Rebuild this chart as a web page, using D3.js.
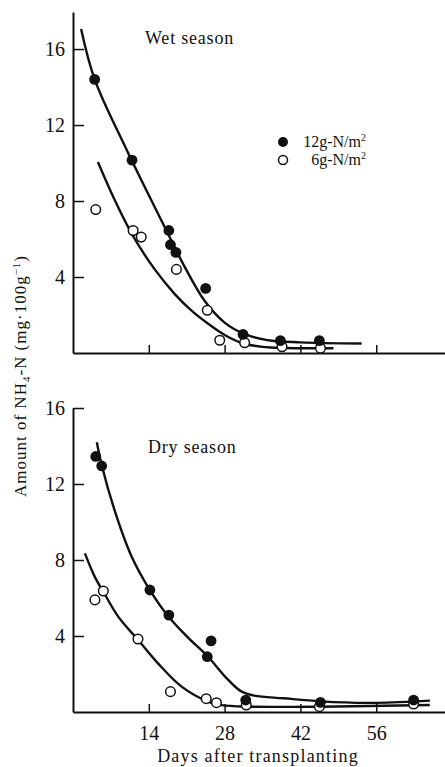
<!DOCTYPE html>
<html>
<head>
<meta charset="utf-8">
<script src="https://cdn.jsdelivr.net/npm/d3@7"></script>
<style>
  body { margin: 0; background: #fff; }
</style>
</head>
<body>
<div id="chart"></div>
<script>
// ---- data ----
// wet season, points
const wetDays12 = [4.0, 10.9, 17.7, 18.0, 19.0, 24.5, 31.4, 38.3, 45.5];
const wetN12    = [14.4, 10.15, 6.45, 5.7, 5.3, 3.4, 0.98, 0.65, 0.65];
const wetDays6  = [4.2, 11.1, 12.6, 19.1, 24.8, 27.1, 31.7, 38.6, 45.7];
const wetN6     = [7.55, 6.45, 6.1, 4.4, 2.25, 0.67, 0.54, 0.33, 0.25];
// wet season, fitted curves
const wetCurveDays12 = [1.5, 4.0, 9.9, 16.9, 20.6, 24.3, 28.0, 31.5, 35.9, 42.0, 53.3];
const wetCurveN12    = [17.05, 14.4, 10.7, 6.65, 4.55, 2.75, 1.6, 1.02, 0.68, 0.56, 0.5];
const wetCurveDays6  = [4.6, 7.7, 11.1, 15.1, 18.8, 22.0, 24.9, 28.0, 31.5, 35.0, 38.9, 48.1];
const wetCurveN6     = [10.05, 8.05, 6.15, 4.4, 3.1, 2.2, 1.55, 0.95, 0.5, 0.32, 0.26, 0.25];

// dry season, points
const dryDays12 = [4.2, 5.3, 14.2, 17.7, 24.8, 25.5, 31.9, 45.7, 62.9];
const dryN12    = [13.45, 12.95, 6.42, 5.1, 2.91, 3.74, 0.63, 0.51, 0.63];
const dryDays6  = [4.05, 5.6, 12.0, 18.0, 24.6, 26.5, 32.0, 45.5, 62.9];
const dryN6     = [5.9, 6.37, 3.84, 1.07, 0.7, 0.49, 0.37, 0.28, 0.42];
// dry season, fitted curves
const dryCurveDays12 = [4.4, 5.3, 7.7, 10.8, 14.2, 17.7, 21.3, 24.9, 28.3, 31.0, 33.5, 38.9, 45.7, 54.3, 62.9, 65.9];
const dryCurveN12    = [14.2, 13.0, 10.6, 8.2, 6.42, 5.0, 3.9, 2.92, 1.8, 1.1, 0.86, 0.72, 0.56, 0.48, 0.55, 0.6];
const dryCurveDays6  = [2.2, 4.05, 5.6, 8.35, 12.0, 15.7, 20.0, 24.9, 27.4, 32.8, 45.7, 65.9];
const dryCurveN6     = [8.35, 7.1, 6.33, 5.02, 3.8, 2.56, 1.35, 0.55, 0.36, 0.28, 0.28, 0.37];

const xTicks = [14, 28, 42, 56];
const yTicks = [4, 8, 12, 16];
const seasonLabels = ["Wet season", "Dry season"];
const legendLabels = ["12g-N/m", "6g-N/m"];

const serif = "'Liberation Serif'";

// ---- layout ----
const width = 445, height = 767;
const axisX = 73;

const svg = d3.select("#chart").append("svg")
    .attr("width", width)
    .attr("height", height);

const x = d3.scaleLinear().domain([0, 68.7]).range([axisX, width]);

const panels = [
    { label: seasonLabels[0], yTop: 12, yBottom: 353, yMax: 17.95, showXLabels: false,
      labelPos: [145, 44],
      pts12: wetDays12.map((d, i) => [d, wetN12[i]]),
      pts6: wetDays6.map((d, i) => [d, wetN6[i]]),
      c12: wetCurveDays12.map((d, i) => [d, wetCurveN12[i]]),
      c6: wetCurveDays6.map((d, i) => [d, wetCurveN6[i]]) },
    { label: seasonLabels[1], yTop: 408, yBottom: 712, yMax: 16, showXLabels: true,
      labelPos: [148, 453],
      pts12: dryDays12.map((d, i) => [d, dryN12[i]]),
      pts6: dryDays6.map((d, i) => [d, dryN6[i]]),
      c12: dryCurveDays12.map((d, i) => [d, dryCurveN12[i]]),
      c6: dryCurveDays6.map((d, i) => [d, dryCurveN6[i]]) }
];

panels.forEach(p => {
    const y = d3.scaleLinear().domain([0, p.yMax]).range([p.yBottom, p.yTop]);
    const g = svg.append("g");

    // y axis, ticks point inward
    const yAxis = g.append("g")
        .attr("transform", `translate(${axisX},0)`)
        .call(d3.axisLeft(y).tickValues(yTicks).tickSizeInner(-11).tickSizeOuter(0).tickPadding(8));
    yAxis.select(".domain").attr("stroke", "#111").attr("stroke-width", 2);
    yAxis.selectAll(".tick line").attr("stroke", "#111").attr("stroke-width", 1.5);
    yAxis.selectAll(".tick text")
        .attr("fill", "#111")
        .style("font-family", serif)
        .style("font-size", "20px");

    // x axis
    const xAxis = g.append("g")
        .attr("transform", `translate(0,${p.yBottom})`)
        .call(d3.axisBottom(x).tickValues(xTicks).tickSizeInner(-8).tickSizeOuter(0).tickPadding(14)
            .tickFormat(p.showXLabels ? d3.format("d") : () => ""));
    xAxis.select(".domain").attr("stroke", "#111").attr("stroke-width", 2);
    xAxis.selectAll(".tick line").attr("stroke", "#111").attr("stroke-width", 1.5);
    xAxis.selectAll(".tick text")
        .attr("fill", "#111")
        .style("font-family", serif)
        .style("font-size", "20px");

    // curves
    const line = d3.line()
        .x(d => x(d[0]))
        .y(d => y(d[1]))
        .curve(d3.curveCatmullRom.alpha(0.5));

    [p.c12, p.c6].forEach(c => {
        g.append("path")
            .datum(c)
            .attr("d", line)
            .attr("fill", "none")
            .attr("stroke", "#111")
            .attr("stroke-width", 2.4);
    });

    // points
    g.selectAll(".open")
        .data(p.pts6)
        .enter()
        .append("circle")
        .attr("class", "open")
        .attr("cx", d => x(d[0]))
        .attr("cy", d => y(d[1]))
        .attr("r", 4.8)
        .attr("fill", "#fff")
        .attr("stroke", "#111")
        .attr("stroke-width", 1.5);

    g.selectAll(".filled")
        .data(p.pts12)
        .enter()
        .append("circle")
        .attr("class", "filled")
        .attr("cx", d => x(d[0]))
        .attr("cy", d => y(d[1]))
        .attr("r", 5.4)
        .attr("fill", "#111");

    g.append("text")
        .attr("x", p.labelPos[0])
        .attr("y", p.labelPos[1])
        .attr("fill", "#111")
        .style("font-family", serif)
        .style("font-size", "18px")
        .style("letter-spacing", "0.8px")
        .text(p.label);
});

// legend
const legend = svg.append("g");
const legendRows = [
    { label: legendLabels[0], filled: true, y: 142 },
    { label: legendLabels[1], filled: false, y: 160 }
];
legendRows.forEach(r => {
    legend.append("circle")
        .attr("cx", 283)
        .attr("cy", r.y)
        .attr("r", r.filled ? 5 : 4.5)
        .attr("fill", r.filled ? "#111" : "#fff")
        .attr("stroke", "#111")
        .attr("stroke-width", r.filled ? 0 : 1.5);
    const t = legend.append("text")
        .attr("x", 366)
        .attr("y", r.y + 5)
        .attr("text-anchor", "end")
        .attr("fill", "#111")
        .style("font-family", serif)
        .style("font-size", "16px");
    t.append("tspan").text(r.label);
    t.append("tspan").attr("dy", -6).style("font-size", "10px").text("2");
});

// axis titles
svg.append("text")
    .attr("x", 258)
    .attr("y", 762)
    .attr("text-anchor", "middle")
    .attr("fill", "#111")
    .style("font-family", serif)
    .style("font-size", "18px")
    .style("letter-spacing", "1.2px")
    .text("Days after transplanting");

const yTitle = svg.append("text")
    .attr("transform", "translate(26,376) rotate(-90)")
    .attr("text-anchor", "middle")
    .attr("fill", "#111")
    .style("font-family", serif)
    .style("font-size", "17px")
    .style("letter-spacing", "1px");
yTitle.append("tspan").text("Amount of NH");
yTitle.append("tspan").attr("dy", 4).style("font-size", "11px").text("4");
yTitle.append("tspan").attr("dy", -4).text("-N  (mg\u00b7100g");
yTitle.append("tspan").attr("dy", -6).style("font-size", "11px").text("\u22121");
yTitle.append("tspan").attr("dy", 6).text(")");
</script>
</body>
</html>
